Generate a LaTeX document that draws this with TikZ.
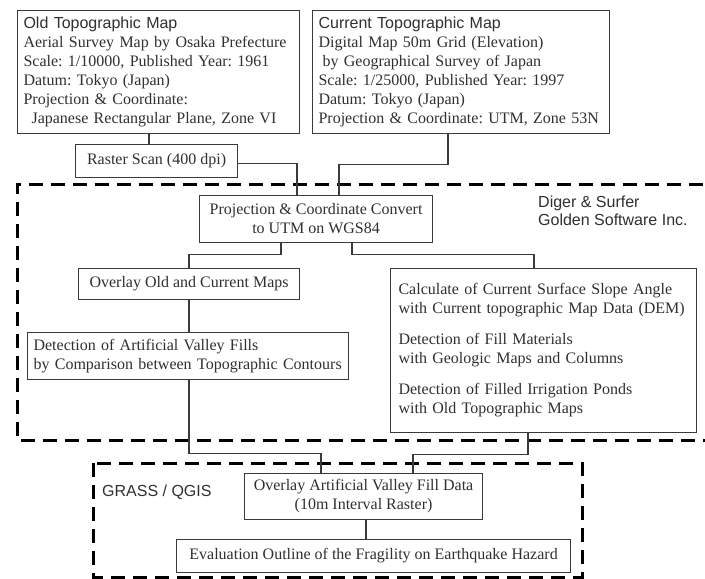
\documentclass[tikz,border=0pt]{standalone}
\usepackage{fontspec}
\setmainfont{Liberation Serif}
\setsansfont{Liberation Sans}
\usetikzlibrary{calc}
\definecolor{boxgray}{HTML}{3A3A3A}
\definecolor{txtgray}{HTML}{303030}
\frenchspacing
\begin{document}
\begin{tikzpicture}[x=1pt,y=-1pt,
  box/.style={draw=boxgray, line width=1.1pt, inner sep=0pt, text=txtgray,
    font=\fontsize{16}{19}\selectfont, anchor=north west},
  lbox/.style={box, align=left},
  cbox/.style={box, align=center},
  dashbox/.style={line width=3pt, dash pattern=on 14pt off 8pt, black},
  conn/.style={draw=boxgray, line width=1.1pt},
  lab/.style={text=txtgray, font=\sffamily\fontsize{16}{18}\selectfont, align=left, inner sep=0pt}]
\useasboundingbox (0,0) rectangle (705,579);
\clip (0,0) rectangle (705,579);
\fill[white] (0,0) rectangle (705,579);

% dashed regions
\draw[dashbox] (725,184) -- (17,184) -- (17,440) -- (725,440);
\draw[dashbox] (93,463) rectangle (582,577);

% boxes
\node[lbox, minimum width=282, minimum height=123, text width=270] (box1) at (17,10)
 {{\sffamily Old Topographic Map}\\
  Aerial Survey Map by Osaka Prefecture\\
  Scale: 1/10000, Published Year: 1961\\
  Datum: Tokyo (Japan)\\
  Projection \& Coordinate:\\
  \hspace*{8pt}Japanese Rectangular Plane, Zone VI};

\node[lbox, minimum width=297, minimum height=123, text width=285] (box2) at (312,10)
 {{\sffamily Current Topographic Map}\\
  Digital Map 50m Grid (Elevation)\\
  \hspace*{4pt}by Geographical Survey of Japan\\
  Scale: 1/25000, Published Year: 1997\\
  Datum: Tokyo (Japan)\\
  Projection \& Coordinate: UTM, Zone 53N};

\node[cbox, minimum width=162, minimum height=33] (raster) at (75,144) {Raster Scan (400 dpi)};

\node[cbox, minimum width=233, minimum height=47] (conv) at (199,195)
 {Projection \& Coordinate Convert\\to UTM on WGS84};

\node[cbox, minimum width=221, minimum height=31] (ovold) at (78,268) {Overlay Old and Current Maps};

\node[lbox, minimum width=321, minimum height=47, text width=309] (detect) at (27,332)
 {Detection of Artificial Valley Fills\\by Comparison between Topographic Contours};

\node[lbox, minimum width=306, minimum height=164, text width=290] (right) at (390,268)
 {Calculate of Current Surface Slope Angle\\
  with Current topographic Map Data (DEM)\\[12pt]
  Detection of Fill Materials\\
  with Geologic Maps and Columns\\[12pt]
  Detection of Filled Irrigation Ponds\\
  with Old Topographic Maps};

\node[cbox, minimum width=238, minimum height=46] (ovart) at (244,473)
 {Overlay Artificial Valley Fill Data\\(10m Interval Raster)};

\node[cbox, minimum width=394, minimum height=33] (eval) at (176,539)
 {Evaluation Outline of the Fragility on Earthquake Hazard};

% labels
\node[lab, anchor=north west] (dig) at (538,196) {Diger \& Surfer\\Golden Software Inc.};
\node[lab, anchor=west] (grass) at (102,492) {GRASS / QGIS};

% connectors
\draw[conn] ([xshift=132pt]box1.south west) -- ([xshift=74pt]raster.north west);
\draw[conn] ([yshift=-2pt]raster.east) -| ([xshift=98pt]conv.north west);
\draw[conn] ([xshift=136pt]box2.south west) -- ++(0,30) -| ([xshift=140pt]conv.north west);
\draw[conn] ([xshift=82pt]conv.south west) -- ++(0,11) -| ([xshift=111pt]ovold.north west);
\draw[conn] ([xshift=153pt]conv.south west) -- ++(0,11) -| ([xshift=144pt]right.north west);
\draw[conn] ([xshift=111pt]ovold.south west) -- ([xshift=162pt]detect.north west);
\draw[conn] ([xshift=162pt]detect.south west) -- ++(0,73) -| ([xshift=77pt]ovart.north west);
\draw[conn] ([xshift=138pt]right.south west) -- ++(0,21) -| ([xshift=169pt]ovart.north west);
\draw[conn] ([xshift=122pt]ovart.south west) -- ([xshift=190pt]eval.north west);
\end{tikzpicture}
\end{document}
